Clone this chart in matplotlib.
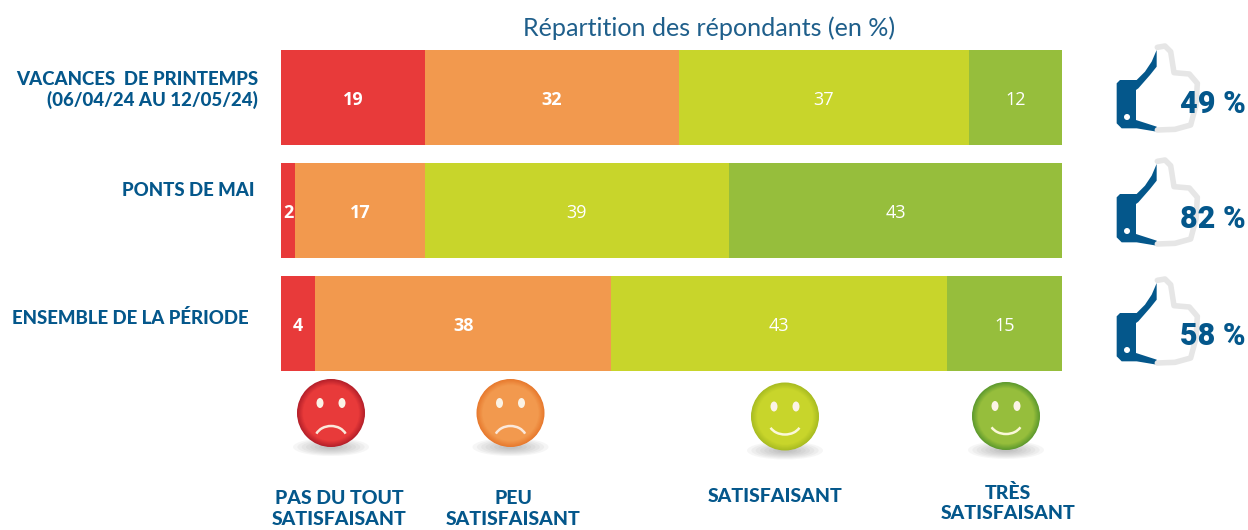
import matplotlib
matplotlib.use('Agg')
import matplotlib.pyplot as plt
import numpy as np
from matplotlib.patches import Circle, Ellipse, Polygon, Arc

# share of respondents, widths as drawn (the printed labels are rounded)
periods = ['VACANCES  DE PRINTEMPS\n(06/04/24 AU 12/05/24)', 'PONTS DE MAI', 'ENSEMBLE DE LA PÉRIODE']
pas_du_tout = [18.4, 1.8, 4.4]
peu = [32.5, 16.6, 37.9]
satisfaisant = [37.2, 39.0, 43.0]
tres = [11.9, 42.6, 14.7]
series = [pas_du_tout, peu, satisfaisant, tres]

labels_pas = ['19', '2', '4']
labels_peu = ['32', '17', '38']
labels_sat = ['37', '39', '43']
labels_tres = ['12', '43', '15']
bar_labels = [labels_pas, labels_peu, labels_sat, labels_tres]

satisfied = ['49 %', '82 %', '58 %']
categories = ['PAS DU TOUT\nSATISFAISANT', 'PEU\nSATISFAISANT', 'SATISFAISANT', 'TRÈS\nSATISFAISANT']

colors = ['#E83A3A', '#F2994E', '#C8D52B', '#96BE3C']
rims = ['#B5202A', '#E87A2E', '#A9BC22', '#5E9A2E']
BLUE = '#04578B'
W, H = 1248, 530

fig = plt.figure(figsize=(W / 100, H / 100), dpi=100)

# overlay in pixel coordinates for the icons and captions
ov = fig.add_axes([0, 0, 1, 1])
ov.set_xlim(0, W)
ov.set_ylim(H, 0)
ov.axis('off')

ax = fig.add_axes([281 / W, 1 - 371 / H, 781 / W, 321 / H])
ax.patch.set_alpha(0)
y = np.arange(3)
left = np.zeros(3)
for i, vals in enumerate(series):
    ax.barh(y, vals, left=left, height=0.84, color=colors[i], linewidth=0)
    for j, v in enumerate(vals):
        ax.text(left[j] + v / 2, y[j] + 0.025, bar_labels[i][j], color='white', ha='center', va='center',
                family='Open Sans', fontsize=13, fontweight='bold' if i < 2 else 'normal')
    left += np.array(vals)
ax.set_xlim(0, 100)
ax.set_ylim(2.42, -0.42)
ax.axis('off')

ov.text(709, 28, 'Répartition des répondants (en %)', color='#1F5F8B', ha='center', va='center',
        family='Lato', fontsize=18.1)

label_font = dict(color=BLUE, family='Lato', fontweight='black')
ov.text(258, 90, periods[0], ha='right', va='center', linespacing=1.25, fontsize=13.4, **label_font)
ov.text(254, 191, periods[1], ha='right', va='center', fontsize=13.4, **label_font)
ov.text(249, 318, periods[2], ha='right', va='center', fontsize=13.4, **label_font)

# thumbs, outlines in zoomed crop units
blue_hand = np.array([(50, 160), (60, 150), (110, 150), (135, 125), (155, 95), (170, 60), (170, 110),
                      (150, 135), (115, 175), (108, 180), (108, 270), (170, 290), (170, 305),
                      (110, 295), (65, 295), (50, 280)], dtype=float)
grey_hand = np.array([(172, 52), (195, 48), (212, 65), (222, 128), (268, 132), (292, 160),
                      (288, 225), (272, 285), (225, 298), (172, 300)], dtype=float)
for k, dy in enumerate([0, 114, 233]):
    bx = 1100 + blue_hand[:, 0] / 3
    by = 30 + dy + blue_hand[:, 1] / 3
    gx = 1100 + grey_hand[:, 0] / 3
    gy = 30 + dy + grey_hand[:, 1] / 3
    ov.plot(gx, gy, color='#E6E6E6', lw=4, solid_joinstyle='round', solid_capstyle='round')
    ov.add_patch(Polygon(np.column_stack([bx, by]), closed=True, color=BLUE, lw=0))
    ov.add_patch(Circle((1127, 117 + dy), 3, color='white', lw=0))
    ov.text(1246, [104, 219, 336][k], satisfied[k], color=BLUE, ha='right', va='center',
            family='Roboto', fontweight='black', fontsize=22)

# smileys
centers = [(331, 413), (510.5, 413), (785, 416.5), (1006, 416)]
for i, (cx, cy) in enumerate(centers):
    for s in np.linspace(1, 0.2, 8):
        ov.add_patch(Ellipse((cx, cy + 34), 76 * s, 18 * s, color='#555555', alpha=0.05, lw=0))
    rim = np.array(matplotlib.colors.to_rgb(rims[i]))
    main = np.array(matplotlib.colors.to_rgb(colors[i]))
    for t in np.linspace(0, 1, 10):
        r = 34 - 6 * t
        ov.add_patch(Circle((cx, cy), r, color=rim + (main - rim) * t, lw=0))
    for ex in (-11, 11):
        ov.add_patch(Ellipse((cx + ex, cy - 10), 7, 10, color='#FBF3E6', lw=0))
    if i < 2:
        ov.add_patch(Arc((cx, cy + 26), 32, 26, theta1=200, theta2=340, color='#FBE8DA', lw=1.8))
    else:
        ov.add_patch(Arc((cx, cy + 6), 32, 24, theta1=20, theta2=160, color='#FBF8D8', lw=1.8))

cap_x = [339, 513, 775, 1008]
cap_y = [509, 509, 497, 503]
for i, cat in enumerate(categories):
    ov.text(cap_x[i], cap_y[i], cat, ha='center', va='center', linespacing=1.25, fontsize=14, **label_font)

plt.savefig('out.png', dpi=100)
